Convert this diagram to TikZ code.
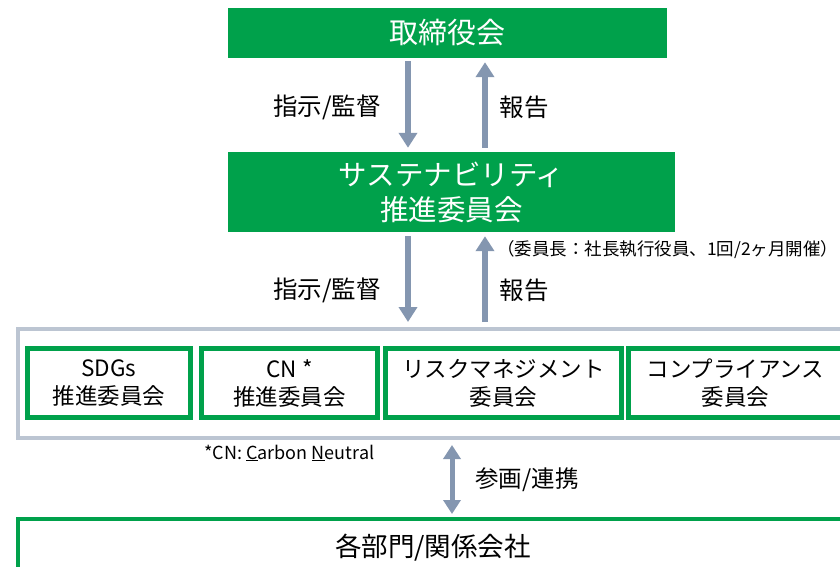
\documentclass[tikz,border=0pt]{standalone}
\usepackage{fontspec}
\setmainfont{Noto Sans CJK JP}
\usetikzlibrary{arrows.meta,positioning}
\definecolor{boardgreen}{RGB}{0,161,75}
\definecolor{arrowgray}{RGB}{132,150,176}
\definecolor{framegray}{RGB}{188,197,210}

\begin{document}
\begin{tikzpicture}[x=1pt,y=-1pt,
	greenbox/.style={fill=boardgreen,text=white,align=center,inner sep=0pt},
	cmte/.style={draw=boardgreen,line width=4.5pt,align=center,inner sep=0pt,minimum height=69pt,font=\fontsize{22.5}{28}\selectfont},
	arr/.style={arrowgray,line width=6pt,-{Triangle[width=18pt,length=15pt]}},
	lbl/.style={font=\fontsize{24.5}{28}\selectfont}]
		\useasboundingbox (0,0) rectangle (840,567);
		\coordinate (dn) at (408,0);
		\coordinate (up) at (485,0);
		\coordinate (bi) at (452,0);
		\node[greenbox,minimum width=439pt,minimum height=50pt,font=\fontsize{29}{32}\selectfont] (board) at (447.5,33) {取締役会};
		\node[greenbox,minimum width=447pt,minimum height=80pt,font=\fontsize{28.5}{35}\selectfont] (susc) at (451.5,192) {サステナビリティ\\推進委員会};
		\node[draw=framegray,line width=4pt,minimum width=852pt,minimum height=109pt] (frame) at (444,383.5) {};
		\node[cmte,minimum width=163pt] (sdgs) at (109,383) {SDGs\\推進委員会};
		\node[cmte,minimum width=176pt] (cn) at (289.5,383) {CN *\\推進委員会};
		\node[cmte,minimum width=236pt] (risk) at (503.5,383) {リスクマネジメント\\委員会};
		\node[cmte,minimum width=214pt] (comp) at (735.5,383) {コンプライアンス\\委員会};
		\node[draw=boardgreen,line width=4pt,minimum width=830pt,minimum height=58pt,font=\fontsize{26.5}{30}\selectfont] (depts) at (433,548) {各部門/関係会社};
		\draw[arr,shorten <=3pt,shorten >=4pt] (board.south -| dn) -- (susc.north -| dn);
		\draw[arr,shorten <=4pt,shorten >=4pt] (susc.north -| up) -- (board.south -| up);
		\draw[arr,shorten <=4pt,shorten >=5pt] (susc.south -| dn) -- (frame.north -| dn);
		\draw[arr,shorten <=5pt,shorten >=4pt] (frame.north -| up) -- (susc.south -| up);
		\draw[arrowgray,line width=5pt,{Triangle[width=17pt,length=14pt]}-{Triangle[width=17pt,length=14pt]},shorten <=5pt,shorten >=3pt] (frame.south -| bi) -- (depts.north -| bi);
		\node[lbl] (order1) at (327,107) {指示/監督};
		\node[lbl] (report1) at (524,107) {報告};
		\node[lbl] (order2) at (327,290) {指示/監督};
		\node[lbl] (report2) at (524,290) {報告};
		\node[font=\fontsize{17.5}{20}\selectfont,anchor=west,inner sep=0pt] (chair) at (497,250) {（委員長：社長執行役員、1回/2ヶ月開催）};
		\node[font=\fontsize{18}{20}\selectfont,anchor=west,inner sep=0pt] (cnnote) at (204,453) {*CN: \underline{C}arbon \underline{N}eutral};
		\node[font=\fontsize{23.5}{28}\selectfont] (join) at (527,480) {参画/連携};
	\end{tikzpicture}
\end{document}
